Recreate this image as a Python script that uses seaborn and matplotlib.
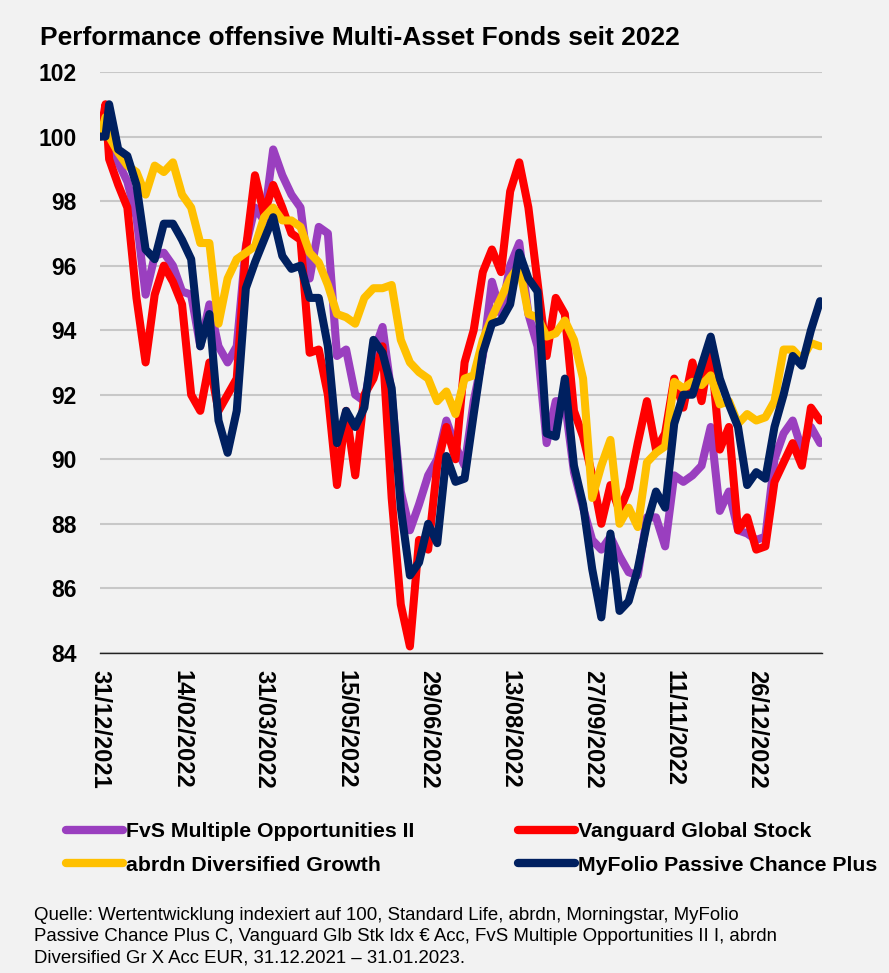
import pandas as pd
import matplotlib
matplotlib.use("Agg")
import matplotlib.pyplot as plt
from matplotlib.lines import Line2D
import seaborn as sns

START = "2021-12-31"
END = "2023-01-31"
day_offsets = [0, 3] + list(range(5, 400, 5))

fvs = [100.0, 100.8, 99.8, 99.2, 98.6, 97.5, 95.1, 96.3, 96.4, 96.0,
       95.2, 95.1, 93.5, 94.8, 93.5, 93.0, 93.5, 96.6, 97.8, 97.4,
       99.6, 98.8, 98.2, 97.8, 95.6, 97.2, 97.0, 93.2, 93.4, 92.0,
       91.8, 93.3, 94.1, 92.0, 89.0, 87.8, 88.6, 89.5, 90.0, 91.2,
       90.4, 89.8, 91.8, 93.2, 95.5, 94.5, 96.0, 96.7, 94.5, 93.5,
       90.5, 91.8, 91.8, 89.6, 88.5, 87.5, 87.2, 87.6, 87.0, 86.5,
       86.4, 88.2, 88.2, 87.3, 89.5, 89.3, 89.5, 89.8, 91.0, 88.4,
       89.0, 87.8, 87.7, 87.5, 87.6, 90.0, 90.8, 91.2, 90.3, 91.0,
       90.5]

vanguard = [100.0, 101.0, 99.3, 98.5, 97.8, 95.0, 93.0, 95.1, 96.0, 95.5,
            94.8, 92.0, 91.5, 93.0, 91.5, 92.0, 92.5, 96.5, 98.8, 97.6,
            98.5, 97.8, 97.0, 96.8, 93.3, 93.4, 92.0, 89.2, 91.5, 89.5,
            92.0, 92.5, 93.5, 88.8, 85.5, 84.2, 87.5, 87.2, 89.8, 91.0,
            90.0, 93.0, 94.0, 95.8, 96.5, 95.8, 98.3, 99.2, 97.8, 95.5,
            93.2, 95.0, 94.5, 91.5, 90.7, 89.5, 88.0, 89.2, 88.4, 89.1,
            90.5, 91.8, 90.3, 90.8, 92.5, 91.6, 93.0, 91.8, 93.5, 90.3,
            91.0, 87.8, 88.2, 87.2, 87.3, 89.3, 89.9, 90.5, 89.8, 91.6,
            91.2]

abrdn = [100.0, 100.6, 100.0, 99.5, 99.1, 98.9, 98.2, 99.1, 98.9, 99.2,
         98.2, 97.8, 96.7, 96.7, 94.2, 95.6, 96.2, 96.4, 96.6, 97.5,
         97.8, 97.4, 97.4, 97.2, 96.4, 96.1, 95.4, 94.5, 94.4, 94.2,
         95.0, 95.3, 95.3, 95.4, 93.7, 93.0, 92.7, 92.5, 91.8, 92.1,
         91.4, 92.5, 92.6, 93.7, 94.4, 95.0, 95.6, 96.0, 94.5, 94.4,
         93.8, 93.9, 94.3, 93.7, 92.5, 88.8, 89.8, 90.6, 88.0, 88.5,
         87.9, 89.9, 90.2, 90.4, 92.4, 92.2, 92.4, 92.3, 92.6, 91.7,
         91.8, 91.1, 91.4, 91.2, 91.3, 91.8, 93.4, 93.4, 93.1, 93.6,
         93.5]

myfolio = [100.0, 100.0, 101.0, 99.6, 99.4, 98.5, 96.5, 96.2, 97.3, 97.3,
           96.8, 96.2, 93.5, 94.5, 91.2, 90.2, 91.5, 95.3, 96.1, 96.8,
           97.5, 96.3, 95.9, 96.0, 95.0, 95.0, 93.5, 90.5, 91.5, 91.0,
           91.6, 93.7, 93.3, 92.2, 88.5, 86.4, 86.8, 88.0, 87.4, 90.1,
           89.3, 89.4, 91.4, 93.3, 94.2, 94.3, 94.8, 96.4, 95.6, 95.2,
           90.8, 90.7, 92.5, 89.8, 88.6, 86.6, 85.1, 87.7, 85.3, 85.6,
           86.6, 88.0, 89.0, 88.5, 91.1, 92.0, 92.0, 92.9, 93.8, 92.5,
           91.7, 91.0, 89.2, 89.6, 89.4, 91.0, 92.0, 93.2, 92.9, 94.0,
           94.9]

series = {
    "FvS Multiple Opportunities II": fvs,
    "Vanguard Global Stock": vanguard,
    "abrdn Diversified Growth": abrdn,
    "MyFolio Passive Chance Plus": myfolio,
}
colors = {
    "FvS Multiple Opportunities II": "#9a3fbf",
    "Vanguard Global Stock": "#ff0000",
    "abrdn Diversified Growth": "#ffc000",
    "MyFolio Passive Chance Plus": "#002060",
}
for name, vals in series.items():
    assert len(vals) == len(day_offsets), name

BG = "#f2f2f2"
sns.set_style("white")
plt.rcParams["font.family"] = ["Liberation Sans", "DejaVu Sans"]
plt.rcParams["text.color"] = "black"
plt.rcParams["xtick.color"] = "black"
plt.rcParams["ytick.color"] = "black"

dates = pd.Timestamp(START) + pd.to_timedelta(day_offsets, unit="D")
df = pd.concat(
    [pd.DataFrame({"Datum": dates, "Wert": vals, "Fonds": name}) for name, vals in series.items()],
    ignore_index=True,
)

fig = plt.figure(figsize=(8.89, 9.73), dpi=100, facecolor=BG)
ax = fig.add_axes([0.1125, 0.329, 0.812, 0.597])
ax.set_facecolor(BG)

sns.lineplot(data=df, x="Datum", y="Wert", hue="Fonds", hue_order=list(series.keys()),
             palette=colors, linewidth=5.8, legend=False, ax=ax)

# axes styling
ax.set_ylim(84, 102)
ax.set_yticks(range(84, 103, 2))
ax.set_xlim(pd.Timestamp(START), pd.Timestamp(END))
ax.set_xlabel("")
ax.set_ylabel("")
ax.yaxis.grid(True, color="#c8c8c8", linewidth=1.5)
ax.xaxis.grid(False)
ax.set_axisbelow(True)
for side in ["left", "right", "top"]:
    ax.spines[side].set_visible(False)
ax.spines["bottom"].set_color("#222222")
ax.spines["bottom"].set_linewidth(1.0)

tick_dates = pd.date_range(START, periods=9, freq="45D")
ax.set_xticks(tick_dates)
ax.set_xticklabels([d.strftime("%d/%m/%Y") for d in tick_dates], rotation=-90,
                   fontsize=17, fontweight="bold", ha="center", va="top")
ax.set_xticks(pd.date_range(START, END, freq="D"), minor=True)
ax.tick_params(axis="x", which="both", length=6, width=0.6, color="#333333", pad=6)
ax.tick_params(axis="y", length=0, pad=17, labelsize=16.5)
for lab in ax.get_yticklabels():
    lab.set_fontweight("bold")

# title
fig.text(40 / 889, 1 - 38 / 973, "Performance offensive Multi-Asset Fonds seit 2022",
         fontsize=19, fontweight="bold", va="center", ha="left")

# legend in two columns
legend_order = ["FvS Multiple Opportunities II", "abrdn Diversified Growth",
                "Vanguard Global Stock", "MyFolio Passive Chance Plus"]
handles = [Line2D([0], [0], color=colors[n], linewidth=6, solid_capstyle="round") for n in legend_order]
fig.legend(handles, legend_order, ncol=2, loc="upper left",
           bbox_to_anchor=(66 / 889, 1 - 822 / 973), frameon=False,
           prop={"weight": "bold", "size": 15.3}, handlelength=2.7, handletextpad=0.1,
           columnspacing=4.9, labelspacing=0.7, borderpad=0, borderaxespad=0)

# source note
fig.text(34 / 889, 1 - 907 / 973,
         "Quelle: Wertentwicklung indexiert auf 100, Standard Life, abrdn, Morningstar, MyFolio\n"
         "Passive Chance Plus C, Vanguard Glb Stk Idx \u20ac Acc, FvS Multiple Opportunities II I, abrdn\n"
         "Diversified Gr X Acc EUR, 31.12.2021 \u2013 31.01.2023.",
         fontsize=13.4, va="top", ha="left", linespacing=1.33)

fig.savefig("out.png", dpi=100, facecolor=BG)
